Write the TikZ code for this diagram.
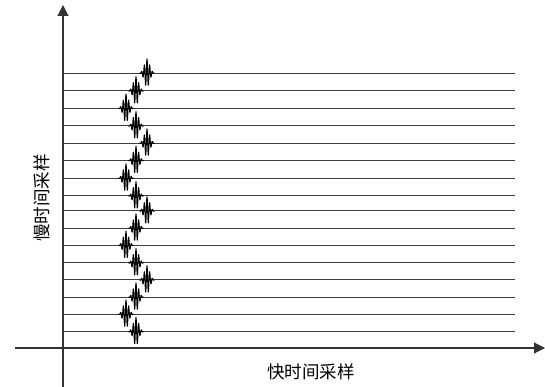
\documentclass[tikz,border=0pt]{standalone}
\usepackage{fontspec}
\newfontfamily\cjk{Noto Sans CJK SC}
\usetikzlibrary{arrows.meta}
\begin{document}
\begin{tikzpicture}[x=1pt,y=-1pt,line join=round,
  trace/.style={draw=black!75,line width=0.9pt},
  pulse/.style={draw=black,line width=1pt},
  axis/.style={draw=black!80,line width=1.1pt,-{Triangle[length=11pt,width=11pt]}},
  lbl/.style={font=\cjk\fontsize{17.5}{17.5}\selectfont,inner sep=0pt}]
\useasboundingbox (0,0) rectangle (545,387);
\foreach \yy/\wx [count=\i] in {73/147,90.7/136,108.2/126,125.7/136,143/147,160.3/136,178/126,195.7/136,210.8/147,228/136,245.2/126,262.7/136,279.8/147,297/136,314/126,331.5/136}{
  \coordinate (L\i) at (63,\yy);
  \coordinate (R\i) at (515,\yy);
  \draw[trace] (L\i) -- (R\i);
  \draw[pulse,shift={(\wx,\yy)}] plot[domain=-7.5:7.5,samples=161,smooth] (\x,{-14*exp(-(\x/3.6)^2)*cos(360*\x/2.7)});
}
\coordinate (yb) at (63,387);
\coordinate (yt) at (63,5);
\coordinate (xl) at (15,348);
\coordinate (xr) at (545,348);
\draw[axis] (yb) -- (yt);
\draw[axis] (xl) -- (xr);
\node[lbl] (xlab) at (311,372) {快时间采样};
\node[lbl,rotate=90] (ylab) at (42,198) {慢时间采样};
\end{tikzpicture}
\end{document}
